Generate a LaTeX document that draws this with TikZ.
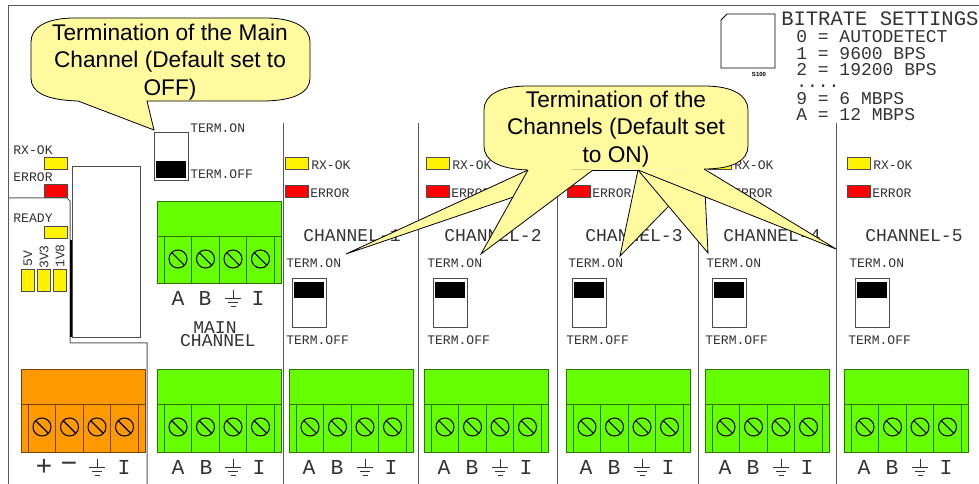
\documentclass[tikz,border=0pt]{standalone}
\usepackage{fontspec}
\setmainfont{Liberation Sans}
\setmonofont{Liberation Mono}
\definecolor{calloutyellow}{HTML}{FFFA9E}
\definecolor{termgreen}{HTML}{66FF00}
\definecolor{termorange}{HTML}{FF9900}
\definecolor{inkgray}{HTML}{333333}
\tikzset{
  wall/.style={draw=black!65,line width=0.75pt},
  ledbox/.style={draw=black!70,line width=0.6pt},
  smalltext/.style={font=\ttfamily\fontsize{9.8}{10}\selectfont,text=inkgray,inner sep=0pt},
  midtext/.style={font=\ttfamily\fontsize{13.5}{14}\selectfont,text=inkgray,inner sep=0pt},
  pinlabel/.style={font=\ttfamily\fontsize{16}{16}\selectfont,text=inkgray,inner sep=0pt},
  signlabel/.style={font=\ttfamily\fontsize{21}{21}\selectfont,text=inkgray,inner sep=0pt},
  spike/.style={fill=calloutyellow,draw=black,line width=0.6pt,line join=miter},
  callouttext/.style={font=\fontsize{17}{20.6}\selectfont,align=center,inner sep=0pt}
}
% connector block: left, top, height, colour
\newcommand{\termblock}[4]{
  \draw[draw=#4!45!black,fill=#4,line width=0.7pt] (#1,#2) rectangle +(124,#3);
  \draw[draw=#4!45!black,line width=0.7pt] (#1,#2+35) -- (#1+124,#2+35);
  \foreach \off in {7,34.5,62,89.5,117}
    \draw[draw=#4!45!black,line width=0.7pt] (#1+\off,#2+35) -- (#1+\off,#2+#3);
  \foreach \off in {21,48.5,76,103.5}
    \draw[line width=0.8pt] (#1+\off,#2+58) circle (9)
      (#1+\off-6.3,#2+51.7) -- (#1+\off+6.3,#2+64.3);
}
\newcommand{\gndmark}[2]{
  \draw[inkgray,line width=0.6pt] (#1,#2-8) -- (#1,#2) (#1-8,#2) -- (#1+8,#2)
    (#1-5,#2+4) -- (#1+5,#2+4) (#1-2.5,#2+8) -- (#1+2.5,#2+8);
}
\begin{document}
\begin{tikzpicture}[x=0.75pt,y=-0.75pt]
\useasboundingbox (0,0) rectangle (979,484);
% frame and walls
\draw[wall] (8,484) -- (8,6) -- (979,6);
\draw[wall] (8,198) -- (67,198) -- (70,201) -- (70,343) -- (147,343) -- (147,484);
\foreach \wallx in {283,418,557,698,836}
  \draw[wall] (\wallx,123) -- (\wallx,484);
\draw[draw=black!70,line width=0.7pt] (72,166) rectangle (140,337);
\draw[line width=1pt] (71,240) -- (71,337);

% status leds, left side
\node[smalltext] (rxoklabel) at (33,150) {RX-OK};
\draw[ledbox,fill=yellow] (44,157) rectangle (67,169);
\node[smalltext] (errorlabel) at (33,177) {ERROR};
\draw[ledbox,fill=red] (44,184) rectangle (67,197);
\node[smalltext] (readylabel) at (33,218) {READY};
\draw[ledbox,fill=yellow] (44,226) rectangle (67,238);
\foreach \ledx/\ledname/\ledy in {21/5V/259,37/3V3/257,53/1V8/256}{
  \draw[ledbox,fill=yellow] (\ledx,269) rectangle +(13,22);
  \node[smalltext,rotate=90] (led\ledname) at (\ledx+7,\ledy) {\ledname};
}

% main channel
\draw[draw=black!70,line width=0.7pt,fill=white] (154,132) rectangle (188,180);
\fill (156,161) rectangle (186,178);
\node[smalltext,anchor=west] (mainon) at (190,128) {TERM.ON};
\node[smalltext,anchor=west] (mainoff) at (190,174) {TERM.OFF};
\termblock{157}{201}{82}{termgreen}
\node[pinlabel] (upa) at (178,298) {A};
\node[pinlabel] (upb) at (205,298) {B};
\gndmark{233}{298}
\node[pinlabel] (upi) at (258,298) {I};
\node[midtext] (mainname) at (215,328) {MAIN};
\node[midtext] (mainchannel) at (218,341) {CHANNEL};
\termblock{157}{369}{83}{termgreen}
\node[pinlabel] (lowa) at (178,467) {A};
\node[pinlabel] (lowb) at (206,467) {B};
\gndmark{233}{467}
\node[pinlabel] (lowi) at (259,467) {I};

% power
\termblock{21}{369}{83}{termorange}
\node[signlabel] (pplus) at (44,467) {+};
\node[signlabel] (pminus) at (69,467) {−};
\gndmark{97}{467}
\node[pinlabel] (pi) at (124,467) {I};

% channels
\foreach \n/\blockx/\ledx/\swx/\onx/\offx/\namex in {1/289/285/292/286/286/352,2/424/426/433/427/427/493,3/566/567/572/568/566/634,4/705/708/712/706/705/772,5/844/847/855/849/848/914}{
  \draw[ledbox,fill=yellow] (\ledx,157) rectangle +(23,12);
  \draw[ledbox,fill=red] (\ledx,185) rectangle +(23,12);
  \node[smalltext,anchor=west] (rxok\n) at (\ledx+26,165) {RX-OK};
  \node[smalltext,anchor=west] (error\n) at (\ledx+25,193) {ERROR};
  \node[midtext] (channel\n) at (\namex,236) {CHANNEL-\n};
  \node[smalltext,anchor=west] (on\n) at (\onx,263) {TERM.ON};
  \draw[draw=black!70,line width=0.7pt,fill=white] (\swx,278) rectangle +(34,49);
  \fill (\swx+2,282) rectangle +(30,16);
  \node[smalltext,anchor=west] (off\n) at (\offx,340) {TERM.OFF};
  \termblock{\blockx}{369}{83}{termgreen}
  \node[pinlabel] (a\n) at (\blockx+20,467) {A};
  \node[pinlabel] (b\n) at (\blockx+48,467) {B};
  \gndmark{\blockx+76}{467}
  \node[pinlabel] (i\n) at (\blockx+102,467) {I};
}

% bitrate switch and legend
\draw[draw=black,line width=0.7pt] (721,68) -- (721,20) -- (727,14) -- (775,14) -- (775,68) -- cycle;
\node[font=\bfseries\fontsize{4.5}{5}\selectfont,inner sep=0pt] (swname) at (759,74) {S100};
\node[font=\ttfamily\fontsize{15.4}{16}\selectfont,text=inkgray,inner sep=0pt,anchor=west] (bitrate) at (781,19) {BITRATE SETTINGS};
\node[midtext,anchor=west] (rate0) at (796,37) {0 = AUTODETECT};
\node[midtext,anchor=west] (rate1) at (796,54) {1 = 9600 BPS};
\node[midtext,anchor=west] (rate2) at (796,70) {2 = 19200 BPS};
\node[midtext,anchor=west] (ratedots) at (796,86) {....};
\node[midtext,anchor=west] (rate9) at (796,99) {9 = 6 MBPS};
\node[midtext,anchor=west] (ratea) at (796,115) {A = 12 MBPS};

% callout for the main channel
\coordinate (maintip) at (154,130);
\draw[spike] (31,42) .. controls (31,28) and (45,18) .. (75,18) -- (265,18)
  .. controls (295,18) and (310,28) .. (310,42) -- (310,78)
  .. controls (310,92) and (295,101) .. (262,101) -- (147,101) -- (maintip) -- (78,101)
  .. controls (45,100) and (31,92) .. (31,78) -- cycle;
\node[callouttext] (maincallout) at (170,62) {Termination of the Main\\Channel (Default set to\\OFF)};

% callout for the channels, spikes first
\coordinate (tipone) at (346,254);
\coordinate (tiptwo) at (481,254);
\coordinate (tipthree) at (620,256);
\coordinate (tipfour) at (708,253);
\coordinate (tipfive) at (836,249);
\draw[spike] (528,170) -- (tipone) -- (593,170);
\draw[spike] (528,170) -- (tiptwo) -- (593,170);
\draw[spike] (638,170) -- (tipthree) -- (704,170);
\draw[spike] (638,170) -- (tipfour) -- (704,170);
\draw[spike] (638,170) -- (tipfive) -- (704,169);
\fill[calloutyellow] (484,110) .. controls (484,96) and (498,86) .. (528,86) -- (704,86)
  .. controls (734,86) and (748,96) .. (748,110) -- (748,146)
  .. controls (748,160) and (734,169) .. (704,169) -- (528,170)
  .. controls (498,169) and (484,160) .. (484,146) -- cycle;
\draw[line width=0.6pt] (704,169) .. controls (734,169) and (748,160) .. (748,146) -- (748,110)
  .. controls (748,96) and (734,86) .. (704,86) -- (528,86)
  .. controls (498,86) and (484,96) .. (484,110) -- (484,146)
  .. controls (484,160) and (498,169) .. (528,170);
\draw[line width=0.6pt] (593,170) -- (638,170);
\node[callouttext] (chancallout) at (616,129) {Termination of the\\Channels (Default set\\to ON)};
\end{tikzpicture}
\end{document}
